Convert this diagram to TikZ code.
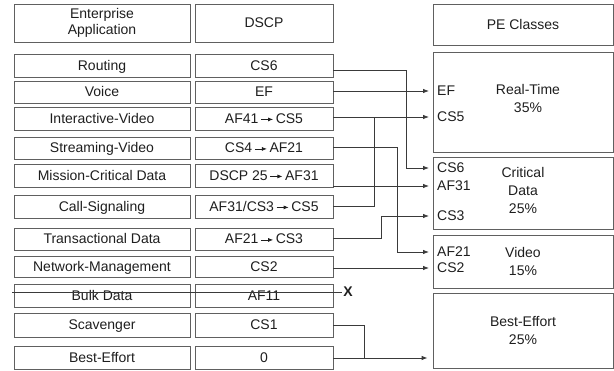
\documentclass[tikz,border=0pt]{standalone}
\usepackage{fontspec}
\setmainfont{Liberation Sans}
\usetikzlibrary{arrows.meta}
\definecolor{boxgray}{HTML}{606060}
\definecolor{linegray}{HTML}{3A3A3A}
\definecolor{txt}{HTML}{1E1E1E}
\newcommand\arw{\,\tikz[baseline=-0.55ex]\draw[line width=0.7pt,color=txt,-{Latex[length=5pt,width=4pt]}](0pt,0pt)--(12pt,0pt);\,}
\tikzset{
  cellbase/.style={draw=boxgray, line width=0.8pt, minimum height=23pt, inner sep=0pt, align=center, text=txt, font=\fontsize{14}{16}\selectfont},
  cell/.style={cellbase, text height=10pt, text depth=0pt},
  app/.style={cell, minimum width=176pt},
  dscp/.style={cell, minimum width=138pt},
  happ/.style={cellbase, minimum width=176pt, minimum height=38pt},
  hdscp/.style={cellbase, minimum width=138pt, minimum height=38pt},
  cls/.style={draw=boxgray, line width=0.8pt, minimum width=180pt, inner sep=0pt},
  clstext/.style={align=center, text=txt, inner sep=0pt, font=\fontsize{14}{18}\selectfont},
  lbl/.style={anchor=west, inner sep=1pt, text=txt, font=\fontsize{14}{16}\selectfont},
  conn/.style={line width=0.8pt, draw=linegray},
  arr/.style={conn, -{Latex[length=6pt,width=4.5pt]}, shorten >=7pt}
}
\begin{document}
\begin{tikzpicture}[x=1pt,y=-1pt]
\useasboundingbox (0,0) rectangle (614,371);
% headers
\node[happ] (hA) at (102,23) {Enterprise\\Application};
\node[hdscp] (hD) at (264,23) {DSCP};
\node[cls, minimum height=41pt, clstext] (hP) at (523,24.5) {PE Classes};
% rows
\node[app] (aR) at (102,65.5) {Routing};
\node[dscp] (dR) at (264,65.5) {CS6};
\node[app, minimum height=22pt] (aV) at (102,92) {Voice};
\node[dscp, minimum height=22pt] (dV) at (264,92) {EF};
\node[app] (aI) at (102,118.5) {Interactive-Video};
\node[dscp] (dI) at (264,118.5) {AF41\arw CS5};
\node[app, minimum height=22pt] (aSV) at (102,148) {Streaming-Video};
\node[dscp, minimum height=22pt] (dSV) at (264,148) {CS4\arw AF21};
\node[app] (aM) at (102,175.5) {Mission-Critical Data};
\node[dscp] (dM) at (264,175.5) {DSCP 25\arw AF31};
\node[app] (aC) at (102,206.5) {Call-Signaling};
\node[dscp] (dC) at (264,206.5) {AF31/CS3\arw CS5};
\node[app, minimum height=22pt] (aT) at (102,239) {Transactional Data};
\node[dscp, minimum height=22pt] (dT) at (264,239) {AF21\arw CS3};
\node[app, minimum height=21pt] (aN) at (102,266.5) {Network-Management};
\node[dscp, minimum height=21pt] (dN) at (264,266.5) {CS2};
\node[app] (aB) at (102,295.5) {Bulk Data};
\node[dscp] (dB) at (264,295.5) {AF11};
\node[app, minimum height=24pt] (aS) at (102,325) {Scavenger};
\node[dscp, minimum height=24pt] (dS) at (264,325) {CS1};
\node[app] (aE) at (102,357.5) {Best-Effort};
\node[dscp] (dE) at (264,357.5) {0};
% class boxes
\node[cls, minimum height=100pt] (cRT) at (523,102) {};
\node[clstext] at (528,98) {Real-Time\\35\%};
\node[cls, minimum height=72pt] (cCD) at (523,193) {};
\node[clstext] at (523,190) {Critical\\Data\\25\%};
\node[cls, minimum height=53pt] (cVi) at (523,261.5) {};
\node[clstext] at (523,261) {Video\\15\%};
\node[cls, minimum height=75pt] (cBE) at (523,330.5) {};
\node[clstext] at (523,331) {Best-Effort\\25\%};
% labels in class boxes
\node[lbl] (lEF) at (436,91) {EF};
\node[lbl] (lCS5) at (436,117) {CS5};
\node[lbl] (lCS6) at (436,168) {CS6};
\node[lbl] (lAF31) at (436,186) {AF31};
\node[lbl] (lCS3) at (436,216) {CS3};
\node[lbl] (lAF21) at (436,252) {AF21};
\node[lbl] (lCS2) at (436,268) {CS2};
% junctions
\coordinate (jR) at (406,70);
\coordinate (jSV) at (397,147);
\coordinate (jT) at (381,238);
\coordinate (jC) at (374,206);
\coordinate (jS) at (364,325);
\coordinate (jE) at (364,358);
\coordinate (bulkL) at (12,292);
\node[inner sep=1pt, text=txt, font=\fontsize{14}{16}\selectfont\bfseries] (X) at (348,292) {X};
% connectors
\draw[arr] (dR.east |- jR) -- (jR) |- (lCS6.west);
\draw[arr] (dV.east |- lEF.west) -- (lEF.west);
\draw[arr] (dI.east |- lCS5.west) -- (lCS5.west);
\draw[arr] (dSV.east |- jSV) -- (jSV) |- (lAF21.west);
\draw[arr] (dM.east |- lAF31.west) -- (lAF31.west);
\draw[conn] (dC.east |- jC) -- (jC) -- (jC |- lCS5.west);
\draw[arr] (dT.east |- jT) -- (jT) |- (lCS3.west);
\draw[arr] (dN.east |- lCS2.west) -- (lCS2.west);
\draw[conn] (bulkL) -- (X.west);
\draw[conn] (dS.east |- jS) -- (jS) -- (jE);
\draw[arr, shorten >=5pt] (dE.east |- jE) -- (jE -| cBE.west);
\end{tikzpicture}
\end{document}
